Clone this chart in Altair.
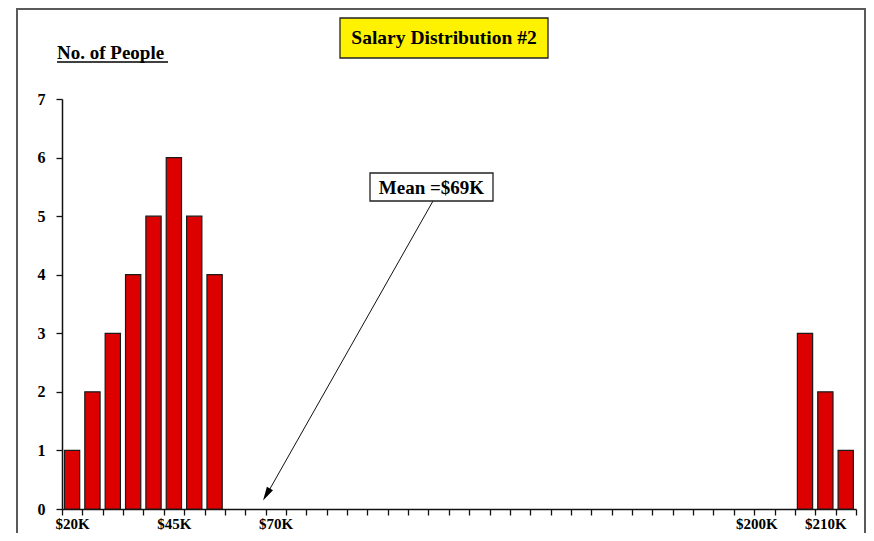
import altair as alt
import pandas as pd

# ---- data ----
slot_index = [0, 1, 2, 3, 4, 5, 6, 7, 36, 37, 38]
people = [1, 2, 3, 4, 5, 6, 5, 4, 3, 2, 1]
salary = ["$20K", "$25K", "$30K", "$35K", "$40K", "$45K", "$50K", "$55K",
          "$205K", "$210K", "$215K"]
n_slots = 39
tick_label_slots = [0, 5, 10, 34, 37]
tick_label_texts = ["$20K", "$45K", "$70K", "$200K", "$210K"]
y_ticks = [0, 1, 2, 3, 4, 5, 6, 7]
title_text = "Salary Distribution #2"
y_title = "No. of People"
mean_text = "Mean =$69K"

FONT = "Liberation Serif"

bars_df = pd.DataFrame({"slot": slot_index, "people": people, "salary": salary})
one = pd.DataFrame({"k": [0]})

label_expr = ""
for s, t in zip(tick_label_slots, tick_label_texts):
    label_expr += f"datum.value == {s} ? '{t}' : "
label_expr += "''"

x_axis = alt.Axis(
    values=list(range(n_slots + 1)), labelExpr=label_expr, title=None, grid=False,
    tickSize=6, tickColor="#111", tickWidth=1.3, domainColor="#111", domainWidth=1.5,
    labelFont=FONT, labelFontSize=15, labelFontWeight="bold", labelColor="#000",
    labelPadding=1, labelFlush=False, labelOverlap=False,
    labelOffset={"condition": {"test": "datum.value == 34", "value": 2}, "value": 10},
)
y_axis = alt.Axis(
    values=y_ticks, title=None, grid=False, tickSize=6, tickColor="#111", tickWidth=1.3,
    domainColor="#111", domainWidth=1.5, labelFont=FONT, labelFontSize=16,
    labelFontWeight="bold", labelColor="#000", labelPadding=11,
)

bars = alt.Chart(bars_df).mark_bar(color="#dd0000", stroke="#1a1a1a", strokeWidth=1.2).transform_calculate(
    x0="datum.slot + 0.12", x1="datum.slot + 0.87"
).encode(
    x=alt.X("x0:Q", scale=alt.Scale(domain=[0, n_slots], nice=False, zero=False), axis=x_axis),
    x2="x1:Q",
    y=alt.Y("people:Q", scale=alt.Scale(domain=[0, 7], nice=False), axis=y_axis),
    y2=alt.datum(0),
)

FRAME = "#5a5a5a"
frame_left = alt.Chart(one).mark_rule(color=FRAME, strokeWidth=2).encode(
    x=alt.value(-45), y=alt.value(-91), y2=alt.value(470)
)
frame_top = alt.Chart(one).mark_rule(color=FRAME, strokeWidth=2).encode(
    x=alt.value(-46), x2=alt.value(804), y=alt.value(-90)
)
frame_right = alt.Chart(one).mark_rule(color=FRAME, strokeWidth=2).encode(
    x=alt.value(803), y=alt.value(-91), y2=alt.value(470)
)

title_box = alt.Chart(one).mark_rect(fill="#fff200", stroke="#222", strokeWidth=1.3).encode(
    x=alt.value(278), x2=alt.value(486), y=alt.value(-81), y2=alt.value(-41)
)
title_lbl = alt.Chart(one).mark_text(font=FONT, fontSize=19.5, fontWeight="bold", color="#000",
                                     align="center", baseline="alphabetic").encode(
    x=alt.value(382), y=alt.value(-55), text=alt.value(title_text)
)

ytitle_lbl = alt.Chart(one).mark_text(font=FONT, fontSize=19, fontWeight="bold", color="#000",
                                      align="left", baseline="alphabetic").encode(
    x=alt.value(-5), y=alt.value(-40), text=alt.value(y_title)
)
ytitle_ul = alt.Chart(one).mark_rule(color="#000", strokeWidth=1.3).encode(
    x=alt.value(-5), x2=alt.value(106), y=alt.value(-37)
)

mean_box = alt.Chart(one).mark_rect(fill="#fff", stroke="#222", strokeWidth=1.3).encode(
    x=alt.value(308), x2=alt.value(431), y=alt.value(74), y2=alt.value(102)
)
mean_lbl = alt.Chart(one).mark_text(font=FONT, fontSize=19, fontWeight="bold", color="#000",
                                    align="center", baseline="alphabetic").encode(
    x=alt.value(369.5), y=alt.value(94.5), text=alt.value(mean_text)
)
arrow_line = alt.Chart(one).mark_rule(color="#111", strokeWidth=1).encode(
    x=alt.value(371), y=alt.value(102), x2=alt.value(205), y2=alt.value(395)
)
arrow_head = alt.Chart(one).mark_point(
    shape="M0,-1L0.5,1L-0.5,1Z", filled=True, color="#000", opacity=1, size=196, angle=209.5
).encode(x=alt.value(204.5), y=alt.value(395.5))

chart = alt.layer(
    frame_left, frame_top, frame_right, bars, title_box, title_lbl, ytitle_lbl, ytitle_ul,
    mean_box, mean_lbl, arrow_line, arrow_head
).properties(
    width=794, height=410,
    autosize=alt.AutoSizeParams(type="none"),
    padding={"left": 54, "top": 91, "right": 10, "bottom": 24},
    background="#ffffff",
).configure_view(stroke=None)

chart.save("out.html", embed_options={"renderer": "svg", "actions": False})
